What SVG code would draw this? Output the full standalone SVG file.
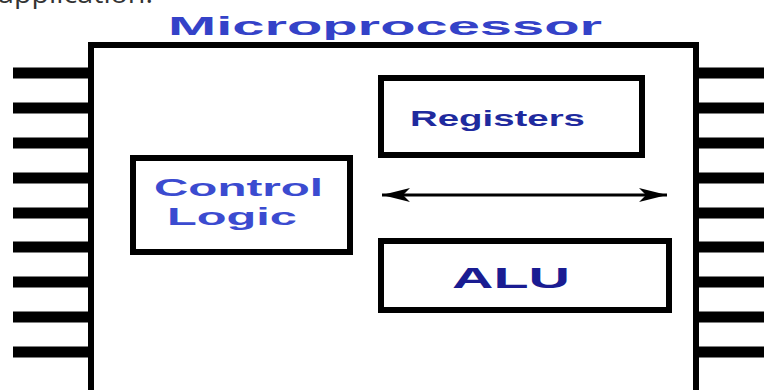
<svg xmlns="http://www.w3.org/2000/svg" width="764" height="390" viewBox="0 0 764 390">
  <style>
    .box { fill: #ffffff; stroke: #000000; stroke-width: 6; }
    .pin { fill: #000000; }
    .lbl { font-family: "Liberation Sans", Arial, sans-serif; font-weight: bold; }
    .conn { stroke: #000000; stroke-width: 3; fill: none; }
  </style>
  <defs>
    <marker id="head" viewBox="0 0 28 14" refX="28" refY="7" markerWidth="28" markerHeight="14" markerUnits="userSpaceOnUse" orient="auto-start-reverse">
      <path d="M0,0 L28,7 L0,14 L7,7 Z" fill="#000000"/>
    </marker>
  </defs>
  <rect width="764" height="390" fill="#ffffff"/>
  <text x="-2" y="3" font-family="'Open Sans', 'Noto Sans', sans-serif" font-size="26" fill="#333333" textLength="155" lengthAdjust="spacingAndGlyphs">application.</text>

  <g id="title">
    <text class="lbl" x="168" y="35" font-size="25" fill="#3442c8" textLength="434" lengthAdjust="spacingAndGlyphs">Microprocessor</text>
  </g>

  <g id="chip">
    <g id="pins-left">
      <rect class="pin" x="13" y="67.5" width="77" height="11"/>
      <rect class="pin" x="13" y="102.5" width="77" height="11"/>
      <rect class="pin" x="13" y="137.5" width="77" height="11"/>
      <rect class="pin" x="13" y="172.5" width="77" height="11"/>
      <rect class="pin" x="13" y="207.5" width="77" height="11"/>
      <rect class="pin" x="13" y="241.5" width="77" height="11"/>
      <rect class="pin" x="13" y="276.5" width="77" height="11"/>
      <rect class="pin" x="13" y="311.5" width="77" height="11"/>
      <rect class="pin" x="13" y="346.5" width="77" height="11"/>
    </g>
    <g id="pins-right">
      <rect class="pin" x="697" y="67.5" width="67" height="11"/>
      <rect class="pin" x="697" y="102.5" width="67" height="11"/>
      <rect class="pin" x="697" y="137.5" width="67" height="11"/>
      <rect class="pin" x="697" y="172.5" width="67" height="11"/>
      <rect class="pin" x="697" y="207.5" width="67" height="11"/>
      <rect class="pin" x="697" y="241.5" width="67" height="11"/>
      <rect class="pin" x="697" y="276.5" width="67" height="11"/>
      <rect class="pin" x="697" y="311.5" width="67" height="11"/>
      <rect class="pin" x="697" y="346.5" width="67" height="11"/>
    </g>
    <rect class="box" x="91" y="45" width="605" height="400"/>
  </g>

  <g id="control-logic">
    <rect class="box" x="133" y="158" width="217" height="94"/>
    <text class="lbl" x="154" y="196" font-size="24" fill="#3b4bd0" textLength="169" lengthAdjust="spacingAndGlyphs">Control</text>
    <text class="lbl" x="167" y="225" font-size="23" fill="#3b4bd0" textLength="130" lengthAdjust="spacingAndGlyphs">Logic</text>
  </g>

  <g id="registers">
    <rect class="box" x="381" y="78" width="261" height="77"/>
    <text class="lbl" x="410" y="126" font-size="22" fill="#1f2a9e" textLength="175" lengthAdjust="spacingAndGlyphs">Registers</text>
  </g>

  <g id="alu">
    <rect class="box" x="381" y="241" width="288" height="69"/>
    <text class="lbl" x="452" y="288" font-size="29" fill="#1a1c92" textLength="118" lengthAdjust="spacingAndGlyphs">ALU</text>
  </g>

  <g id="connectors">
    <line class="conn" x1="382" y1="195" x2="667" y2="195" marker-start="url(#head)" marker-end="url(#head)"/>
  </g>
</svg>
